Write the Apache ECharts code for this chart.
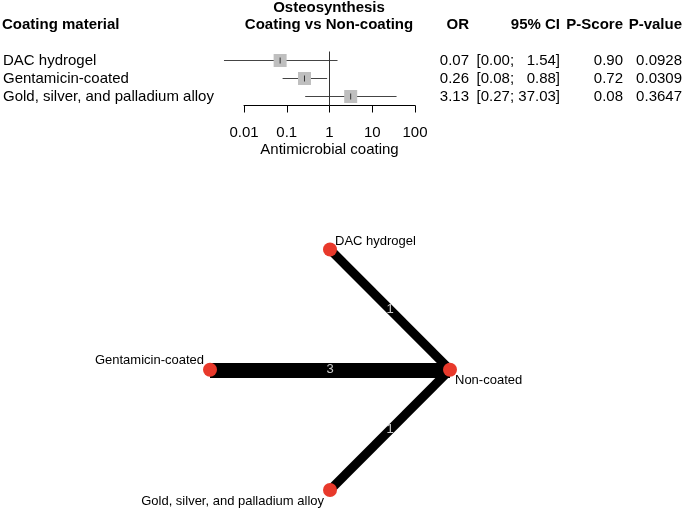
<!DOCTYPE html>
<html>
<head>
<meta charset="utf-8">
<script src="https://cdn.jsdelivr.net/npm/echarts@6/dist/echarts.min.js"></script>
<style>
html, body { margin: 0; padding: 0; background: #fff; }
#chart { width: 685px; height: 510px; }
</style>
</head>
<body>
<div id="chart"></div>
<script>
// forest plot data (OR vs Non-coating)
var studies = ['DAC hydrogel', 'Gentamicin-coated', 'Gold, silver, and palladium alloy'];
var orVals = [0.07, 0.26, 3.13];
var ciLow = [0.0034, 0.08, 0.27];
var ciHigh = [1.54, 0.88, 37.03];
var pScore = [0.90, 0.72, 0.08];
var pValue = [0.0928, 0.0309, 0.3647];
var orTicks = [0.01, 0.1, 1, 10, 100];

// network data
var treatments = ['Non-coated', 'DAC hydrogel', 'Gentamicin-coated', 'Gold, silver, and palladium alloy'];
var layoutX = [1, 0, -1, 0]; // netgraph circle layout
var layoutY = [0, 1, 0, -1];
var compSource = ['DAC hydrogel', 'Gentamicin-coated', 'Gold, silver, and palladium alloy'];
var compTarget = ['Non-coated', 'Non-coated', 'Non-coated'];
var nStudies = [1, 3, 1];

var FONT = '"Liberation Sans", Arial, sans-serif';

// 라벨 위치 (노드 기준)
var nodeLabelPos = {
	'Non-coated': { position: [12, 18], align: 'left' },
	'DAC hydrogel': { position: [12, -1], align: 'left' },
	'Gentamicin-coated': { position: [1, -2], align: 'right' },
	'Gold, silver, and palladium alloy': { position: [1, 18], align: 'right' }
};

function fmt2(v) { return v.toFixed(2); }

function ciText(i) {
	var lo = fmt2(ciLow[i]);
	var hi = fmt2(ciHigh[i]);
	if (hi.length < 5) hi = '\u2007' + hi; // 자리 맞춤
	return '[' + lo + '; ' + hi + ']';
}

var forestData = studies.map(function (s, i) {
	return [i, orVals[i], ciLow[i], ciHigh[i]];
});

function hiddenCat(data, margin) {
	return {
		type: 'category', gridIndex: 0, position: 'right', inverse: true,
		data: data,
		axisLine: { show: false }, axisTick: { show: false }, splitLine: { show: false },
		axisLabel: { interval: 0, align: 'right', margin: margin, fontSize: 15, color: '#000', fontFamily: FONT }
	};
}

var nodes = treatments.map(function (t, i) {
	var lp = nodeLabelPos[t];
	return {
		name: t,
		value: [layoutX[i], layoutY[i]],
		label: { show: true, position: lp.position, align: lp.align, verticalAlign: 'middle' }
	};
});

var links = compSource.map(function (s, i) {
	return {
		source: s, target: compTarget[i], value: nStudies[i],
		lineStyle: { width: 6 + 3 * nStudies[i] }
	};
});

// 엣지 중간점에 연구 수 표시
var edgeMid = compSource.map(function (s, i) {
	var a = treatments.indexOf(s);
	var b = treatments.indexOf(compTarget[i]);
	return [(layoutX[a] + layoutX[b]) / 2, (layoutY[a] + layoutY[b]) / 2, nStudies[i]];
});

var headerStyle = { fill: '#000', fontSize: 15, fontWeight: 'bold', fontFamily: FONT, textVerticalAlign: 'middle' };
function header(text, x, y, align) {
	return { type: 'text', x: x, y: y, style: Object.assign({ text: text, textAlign: align }, headerStyle) };
}

var myChart = echarts.init(document.getElementById('chart'));

var option = {
	animation: false,
	textStyle: { fontFamily: FONT },
	graphic: [
		header('Osteosynthesis', 329, 8, 'center'),
		header('Coating vs Non-coating', 329, 25, 'center'),
		header('Coating material', 2, 25, 'left'),
		header('OR', 469, 25, 'right'),
		header('95% CI', 560, 25, 'right'),
		header('P-Score', 623, 25, 'right'),
		header('P-value', 682, 25, 'right')
	],
	grid: [
		{ left: 243, width: 172, top: 51.5, height: 54 },
		{ left: 210, width: 240, top: 249.5, height: 240.5 }
	],
	xAxis: [
		{
			type: 'log', logBase: 10, gridIndex: 0, min: orTicks[0], max: orTicks[orTicks.length - 1],
			position: 'bottom',
			axisLine: { show: true, lineStyle: { color: '#000', width: 1 } },
			axisTick: { show: true, length: 7, lineStyle: { color: '#000' } },
			splitLine: { show: false },
			axisLabel: { fontSize: 15, color: '#000', margin: 20, fontFamily: FONT,
				formatter: function (v) { return String(+v.toPrecision(3)); } },
			name: 'Antimicrobial coating', nameLocation: 'middle', nameGap: 37,
			nameTextStyle: { fontSize: 15, color: '#000', fontFamily: FONT }
		},
		{ type: 'value', gridIndex: 1, min: -1, max: 1, show: false }
	],
	yAxis: [
		{
			type: 'category', gridIndex: 0, inverse: true, data: studies,
			axisLine: { show: false }, axisTick: { show: false }, splitLine: { show: false },
			axisLabel: { interval: 0, align: 'left', margin: 241, fontSize: 15, color: '#000', fontFamily: FONT }
		},
		hiddenCat(orVals.map(fmt2), 54),
		hiddenCat(studies.map(function (s, i) { return ciText(i); }), 145),
		hiddenCat(pScore.map(fmt2), 208),
		hiddenCat(pValue.map(function (v) { return v.toFixed(4); }), 267),
		{ type: 'value', gridIndex: 1, min: -1, max: 1, show: false }
	],
	series: [
		{
			type: 'custom',
			xAxisIndex: 0, yAxisIndex: 0,
			data: forestData,
			encode: { x: [1, 2, 3], y: 0 },
			clip: false,
			renderItem: function (params, api) {
				var idx = api.value(0);
				var c = api.coord([api.value(1), idx]);
				var lo = api.coord([api.value(2), idx]);
				var hi = api.coord([api.value(3), idx]);
				var box = 13;
				return {
					type: 'group',
					children: [
						{ type: 'line', shape: { x1: lo[0], y1: lo[1], x2: hi[0], y2: hi[1] },
							style: { stroke: '#444', lineWidth: 1 } },
						{ type: 'rect', shape: { x: c[0] - box / 2, y: c[1] - box / 2, width: box, height: box },
							style: { fill: '#bfbfbf' } },
						{ type: 'line', shape: { x1: c[0], y1: c[1] - 3, x2: c[0], y2: c[1] + 3 },
							style: { stroke: '#333', lineWidth: 1 } }
					]
				};
			},
			markLine: {
				silent: true, symbol: 'none', animation: false,
				label: { show: false },
				lineStyle: { color: '#333', type: 'solid', width: 1 },
				data: [{ xAxis: 1 }]
			}
		},
		{
			type: 'graph',
			coordinateSystem: 'cartesian2d',
			xAxisIndex: 1, yAxisIndex: 5,
			layout: 'none',
			symbol: 'circle',
			symbolSize: 14,
			itemStyle: { color: '#e8392b' },
			label: { show: true, fontSize: 13, color: '#000', fontFamily: FONT },
			lineStyle: { color: '#000', opacity: 1, curveness: 0 },
			edgeLabel: { show: false },
			emphasis: { disabled: true },
			data: nodes,
			links: links
		},
		{
			type: 'scatter',
			xAxisIndex: 1, yAxisIndex: 5,
			z: 5,
			symbolSize: 0,
			silent: true,
			data: edgeMid,
			label: {
				show: true, position: 'inside', fontSize: 13, color: '#fff', fontFamily: FONT,
				formatter: function (p) { return p.value[2]; }
			}
		}
	]
};

myChart.setOption(option);
</script>
</body>
</html>
